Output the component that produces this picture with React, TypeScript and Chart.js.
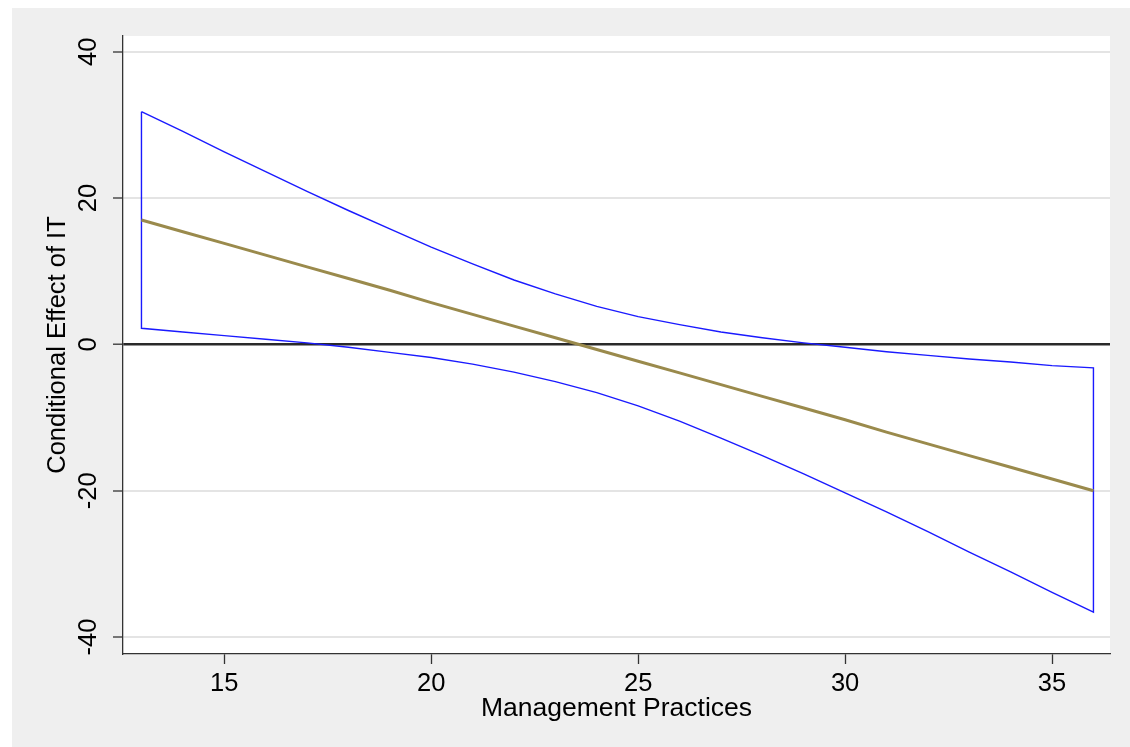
import React, { useEffect, useRef } from "react";
import { Chart, registerables } from "chart.js";

Chart.register(...registerables);

// Management Practices values
const xValues = [13, 14, 15, 16, 17, 18, 19, 20, 21, 22, 23, 24, 25, 26, 27, 28, 29, 30, 31, 32, 33, 34, 35, 36];
// Conditional effect of IT (point estimate)
const effect = [17.0, 15.4, 13.8, 12.2, 10.6, 9.0, 7.4, 5.7, 4.1, 2.5, 0.9, -0.7, -2.3, -3.9, -5.5, -7.1, -8.7, -10.3, -12.0, -13.6, -15.2, -16.8, -18.4, -20.0];
// Upper and lower confidence bounds
const upperBound = [31.8, 29.1, 26.3, 23.6, 20.9, 18.3, 15.8, 13.3, 11.0, 8.8, 6.9, 5.2, 3.8, 2.7, 1.7, 0.9, 0.2, -0.4, -1.0, -1.5, -2.0, -2.4, -2.9, -3.2];
const lowerBound = [2.2, 1.7, 1.2, 0.7, 0.2, -0.4, -1.1, -1.8, -2.7, -3.8, -5.1, -6.6, -8.4, -10.5, -12.8, -15.2, -17.7, -20.3, -22.9, -25.6, -28.4, -31.1, -33.9, -36.6];

const xTicks = [15, 20, 25, 30, 35];
const yTicks = [-40, -20, 0, 20, 40];
const xTitle = "Management Practices";
const yTitle = "Conditional Effect of IT";

const FONT = "'Liberation Sans', Arial, Helvetica, sans-serif";

const plotBackground = {
  id: "plotBackground",
  beforeDraw(chart: any) {
    const { ctx, chartArea } = chart;
    if (!chartArea) return;
    ctx.save();
    ctx.fillStyle = "#ffffff";
    ctx.fillRect(chartArea.left, chartArea.top, chartArea.right - chartArea.left, chartArea.bottom - chartArea.top);
    ctx.restore();
  },
};

export default function App() {
  const ref = useRef<HTMLCanvasElement>(null);

  useEffect(() => {
    document.body.style.overflow = "hidden";
    const canvas = ref.current;
    if (!canvas) return;

    const bandPoints = [
      ...xValues.map((x, i) => ({ x, y: upperBound[i] })),
      ...xValues.map((x, i) => ({ x, y: lowerBound[i] })).reverse(),
      { x: xValues[0], y: upperBound[0] },
    ];
    const effectPoints = xValues.map((x, i) => ({ x, y: effect[i] }));

    const chart = new Chart(canvas, {
      type: "line",
      data: {
        datasets: [
          {
            data: bandPoints,
            borderColor: "#1a1aff",
            borderWidth: 1.4,
            pointRadius: 0,
            fill: false,
            tension: 0,
            order: 2,
          },
          {
            data: effectPoints,
            borderColor: "#9a8a4c",
            borderWidth: 3,
            pointRadius: 0,
            fill: false,
            tension: 0,
            order: 1,
          },
        ],
      },
      options: {
        animation: false,
        responsive: false,
        maintainAspectRatio: false,
        layout: { padding: { top: 28, right: 20, left: 0, bottom: 0 } },
        plugins: {
          legend: { display: false },
          tooltip: { enabled: false },
        },
        scales: {
          x: {
            type: "linear",
            min: 12.554,
            max: 36.4,
            afterBuildTicks: (s: any) => {
              s.ticks = xTicks.map((v) => ({ value: v }));
            },
            afterFit: (s: any) => {
              s.height = 93;
            },
            grid: {
              drawOnChartArea: false,
              tickLength: 10,
              tickColor: "#333333",
              tickWidth: 1.3,
            },
            border: { color: "#333333", width: 1.3 },
            ticks: {
              font: { family: FONT, size: 25.5 },
              color: "#000000",
              padding: 5,
              maxRotation: 0,
              minRotation: 0,
            },
            title: {
              display: true,
              text: xTitle,
              font: { family: FONT, size: 26.5 },
              color: "#000000",
              padding: { top: 0, bottom: 22 },
            },
          },
          y: {
            type: "linear",
            min: -42.32,
            max: 42.15,
            afterBuildTicks: (s: any) => {
              s.ticks = yTicks.map((v) => ({ value: v }));
            },
            afterFit: (s: any) => {
              s.width = 111;
            },
            grid: {
              drawOnChartArea: true,
              color: (c: any) => (c.tick && c.tick.value === 0 ? "#2a2a2a" : "#e4e4e4"),
              lineWidth: (c: any) => (c.tick && c.tick.value === 0 ? 2.4 : 2),
              tickLength: 10,
              tickColor: "#333333",
              tickWidth: 1.3,
            },
            border: { color: "#333333", width: 1.3 },
            ticks: {
              font: { family: FONT, size: 25.5 },
              color: "#000000",
              padding: 6,
              minRotation: 90,
              maxRotation: 90,
              crossAlign: "center",
            },
            title: {
              display: true,
              text: yTitle,
              font: { family: FONT, size: 25.5 },
              color: "#000000",
              padding: { top: 31, bottom: 0 },
            },
          },
        },
      },
      plugins: [plotBackground],
    } as any);

    return () => chart.destroy();
  }, []);

  return (
    <div
      style={{
        position: "absolute",
        left: 12,
        top: 8,
        width: 1118,
        height: 739,
        background: "#efefef",
      }}
    >
      <canvas ref={ref} width={1118} height={739} style={{ display: "block" }} />
    </div>
  );
}
